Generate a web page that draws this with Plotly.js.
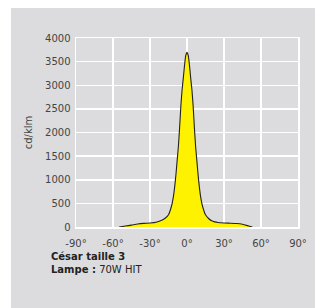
<!DOCTYPE html>
<html><head><meta charset="utf-8">
<script src="https://cdn.plot.ly/plotly-3.0.1.min.js"></script>
<style>
html,body{margin:0;padding:0;background:#fff;width:315px;height:308px;overflow:hidden;}
#chart{position:absolute;left:11px;top:8px;width:304px;height:300px;}
</style></head>
<body><div id="chart"></div>
<script>
const angles = [-55,-50,-45,-40,-35,-30,-25,-20,-17.5,-15,-12.5,-11,-10,-9,-8,-7,-6,-5,-4,-3,-2,-1,0,1,2,3,4,5,6,7,8,9,10,11,12.5,15,17.5,20,22.5,25,30,35,40,45,50,53];
const intensity = [0,20,40,62,76,85,102,150,190,260,450,650,850,1100,1400,1700,2100,2550,2900,3150,3420,3630,3700,3630,3420,3150,2900,2550,2100,1700,1400,1100,850,650,450,260,180,130,108,95,85,80,74,58,22,0];
const tickAngles = [-90,-60,-30,0,30,60,90];
const tickLabels = ['-90°','-60°','-30°','0°','30°','60°','90°'];
const yTicks = [0,500,1000,1500,2000,2500,3000,3500,4000];
const titleLine1 = 'César taille 3';
const lampLabel = 'Lampe :';
const lampValue = '70W HIT';

const grey = '#dcdcde';
const font = {family:'DejaVu Sans', size:10, color:'#444'};
Plotly.newPlot('chart', [{
  x: angles, y: intensity, type:'scatter', mode:'lines',
  line:{color:'#222', width:1.1, shape:'spline', smoothing:0.6},
  fill:'tozeroy', fillcolor:'#fff200', hoverinfo:'skip'
}], {
  width:304, height:300,
  margin:{l:65, r:17, t:30, b:81},
  paper_bgcolor:grey, plot_bgcolor:grey,
  font:font, showlegend:false,
  xaxis:{range:[-90,90], tickmode:'array', tickvals:tickAngles, ticktext:tickLabels, showgrid:true, gridcolor:'white', gridwidth:1.5,
    zeroline:false, showline:true, mirror:true, linecolor:'white', linewidth:1.5,
    ticks:'outside', ticklen:6, tickcolor:grey, tickfont:font, fixedrange:true},
  yaxis:{range:[0,4000], tickmode:'linear', tick0:0, dtick:500, showgrid:true, gridcolor:'white', gridwidth:1.5,
    zeroline:false, showline:true, mirror:true, linecolor:'white', linewidth:1.5,
    ticks:'outside', ticklen:2, tickcolor:grey, tickfont:font,
    title:{text:'cd/klm', font:{family:'DejaVu Sans', size:10, color:'#444'}, standoff:10}, fixedrange:true},
  annotations:[{
    xref:'paper', yref:'paper', x:-0.1216, y:-0.118, xanchor:'left', yanchor:'top', align:'left', showarrow:false,
    text:'<b>'+titleLine1+'</b><br><b>'+lampLabel+'</b> '+lampValue,
    font:{family:'DejaVu Sans', size:10, color:'#222'}
  }]
}, {displayModeBar:false, staticPlot:true});
</script></body></html>
